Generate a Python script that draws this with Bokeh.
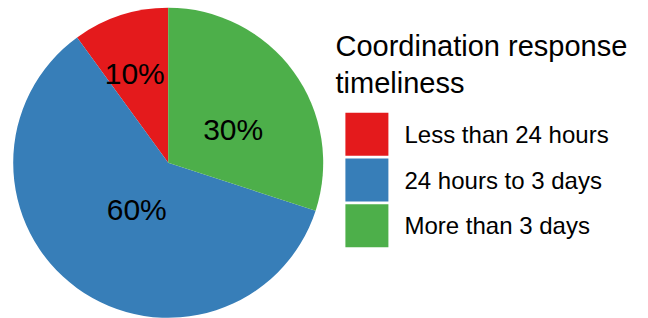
import math
from bokeh.plotting import figure
from bokeh.models import Range1d, ColumnDataSource
from bokeh.core.properties import value
from bokeh.embed import file_html
from bokeh.resources import INLINE

# ---- data ----
categories = ["Less than 24 hours", "24 hours to 3 days", "More than 3 days"]
shares = [10, 60, 30]
colors = ["#e41a1c", "#377eb8", "#4daf4a"]
legend_title = ["Coordination response", "timeliness"]

# ---- layout (pixels in plot space, y up) ----
W, H = 648, 318
cx, cy, R = 167.7, 155.7, 155
# label placement: polar (fraction of radius, angle in degrees)
label_pos = [(0.613, 110.6), (0.362, 235.9), (0.471, 27.1)]
FONT = value("Liberation Sans")

p = figure(width=W, height=H, output_backend="svg", toolbar_location=None,
           x_range=Range1d(0, W), y_range=Range1d(0, H), min_border=0)
p.axis.visible = False
p.grid.visible = False
p.outline_line_color = None
p.background_fill_color = "white"
p.border_fill_color = "white"

total = sum(shares)
starts, ends = [], []
a = math.pi / 2
for s in shares:
    starts.append(a)
    a += 2 * math.pi * s / total
    ends.append(a)

src = ColumnDataSource(dict(cat=categories, start=starts, end=ends, color=colors))
p.wedge(x=cx, y=cy, radius=R, start_angle="start", end_angle="end",
        fill_color="color", line_color=None, source=src)

lx = [cx + f * R * math.cos(math.radians(d)) for f, d in label_pos]
ly = [cy + f * R * math.sin(math.radians(d)) for f, d in label_pos]
ltxt = [f"{s / total * 100:.0f}%" for s in shares]
p.text(x=lx, y=ly, text=ltxt, text_font=FONT, text_font_size="30px",
       text_align="center", text_baseline="middle", text_color="black")

# legend title
p.text(x=[335, 335], y=[272.2, 235.7], text=legend_title, text_font=FONT,
       text_font_size="29px", text_align="left", text_baseline="middle",
       text_color="black")

# legend entries
pitch = 45.8
sy = [184.3 - i * pitch for i in range(len(categories))]
p.rect(x=[366.4] * len(categories), y=sy, width=43, height=43,
       fill_color=colors, line_color=None)
p.text(x=[404] * len(categories), y=sy, text=categories,
       text_font=FONT, text_font_size="24px", text_align="left",
       text_baseline="middle", text_color="black")

open("out.html", "w").write(file_html(p, INLINE))
